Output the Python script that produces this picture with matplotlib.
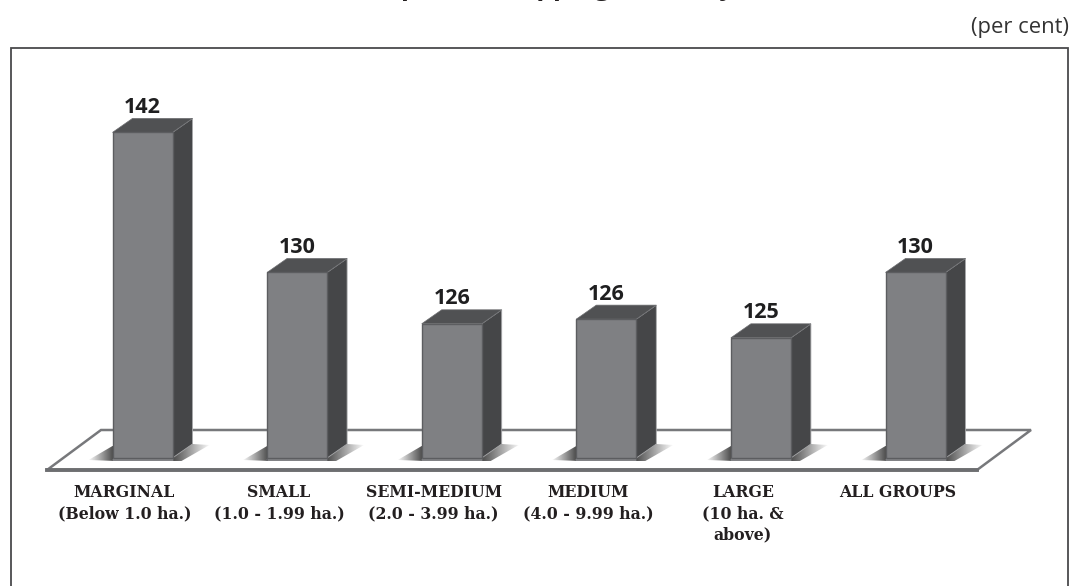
import numpy as np
import matplotlib
matplotlib.use('Agg')
import matplotlib.pyplot as plt
from matplotlib.patches import Polygon

# Data
categories = ['MARGINAL\n(Below 1.0 ha.)', 'SMALL\n(1.0 - 1.99 ha.)', 'SEMI-MEDIUM\n(2.0 - 3.99 ha.)',
              'MEDIUM\n(4.0 - 9.99 ha.)', 'LARGE\n(10 ha. &\nabove)', 'ALL GROUPS']
bar_labels = ['142', '130', '126', '126', '125', '130']
# heights as drawn, the printed labels are rounded
bar_heights = [142.0, 130.0, 125.6, 126.0, 124.4, 130.0]

W, H = 1071, 586
Y_BASE = 114.1
PX_PER_BAR = 154.6
PX_PER_UNIT = 11.67
BAR_W = 60 / PX_PER_BAR
DEPTH_X = 20 / PX_PER_BAR
DEPTH_Y = 14 / PX_PER_UNIT

fig = plt.figure(figsize=(W / 100, H / 100), dpi=100)
ax = fig.add_axes([0, 0, 1, 1])
# axis limits chosen so that the categories and values land on the frame
px_x = lambda px: (px - 142.5) / PX_PER_BAR
px_y = lambda py: Y_BASE + (458 - py) / PX_PER_UNIT
ax.set_xlim(px_x(0), px_x(W))
ax.set_ylim(px_y(H), px_y(0))
ax.axis('off')

# outer frame
frame_x = [px_x(11), px_x(11), px_x(1068), px_x(1068)]
frame_y = [px_y(600), px_y(48), px_y(48), px_y(600)]
ax.plot(frame_x, frame_y, color='#4a4a4c', lw=1.3, solid_joinstyle='miter')

# floor
floor = [(px_x(47), px_y(470)), (px_x(101), px_y(430)), (px_x(1031), px_y(430)), (px_x(977), px_y(470))]
ax.add_patch(Polygon(floor, closed=True, fc='white', ec='#77787b', lw=1.8, zorder=1))
ax.plot([px_x(47), px_x(977)], [px_y(470), px_y(470)], color='#6d6e71', lw=2.8, zorder=1)


def soft_shadow(points, x_from, x_to):
    # dark next to the bar, fading out towards x_to
    rgba = np.zeros((1, 64, 4))
    rgba[..., :3] = 0.27
    rgba[..., 3] = np.linspace(0.95, 0.0, 64)
    im = ax.imshow(rgba, extent=[x_from, x_to, Y_BASE - 4 / PX_PER_UNIT, Y_BASE + 16 / PX_PER_UNIT],
                   origin='lower', aspect='auto', interpolation='bilinear', zorder=2)
    patch = Polygon(points, closed=True, fc='none', ec='none', zorder=2)
    ax.add_patch(patch)
    im.set_clip_path(patch)


for i, h in enumerate(bar_heights):
    x0 = i - BAR_W / 2
    x1 = i + BAR_W / 2

    # shadows on the floor, they start under the bar so no gap is left
    soft_shadow([(x0 + 3 / PX_PER_BAR, Y_BASE + 12 / PX_PER_UNIT), (x0, Y_BASE + 12 / PX_PER_UNIT),
                 (x0 - 24 / PX_PER_BAR, Y_BASE - 2 / PX_PER_UNIT), (x0 + 3 / PX_PER_BAR, Y_BASE - 3 / PX_PER_UNIT)],
                x0, x0 - 25 / PX_PER_BAR)
    soft_shadow([(x1 - 4 / PX_PER_BAR, Y_BASE - 3 / PX_PER_UNIT), (x1 - 4 / PX_PER_BAR, Y_BASE + DEPTH_Y),
                 (x1 + DEPTH_X, Y_BASE + DEPTH_Y), (x1 + DEPTH_X + 17 / PX_PER_BAR, Y_BASE + 13 / PX_PER_UNIT),
                 (x1 + 9 / PX_PER_BAR, Y_BASE - 3 / PX_PER_UNIT)], x1, x1 + DEPTH_X + 18 / PX_PER_BAR)
    ax.plot([x0, x1], [Y_BASE - 2 / PX_PER_UNIT] * 2, color='#6a6b6e', lw=1.2, zorder=2)

    # front, side and top faces
    front = [(x0, Y_BASE), (x0, h), (x1, h), (x1, Y_BASE)]
    side = [(x1, Y_BASE), (x1, h), (x1 + DEPTH_X, h + DEPTH_Y), (x1 + DEPTH_X, Y_BASE + DEPTH_Y)]
    top = [(x0, h), (x0 + DEPTH_X, h + DEPTH_Y), (x1 + DEPTH_X, h + DEPTH_Y), (x1, h)]
    ax.add_patch(Polygon(side, closed=True, fc='#454648', ec='#a8a9ab', lw=0.6, zorder=3))
    ax.add_patch(Polygon(top, closed=True, fc='#505153', ec='#6d6e71', lw=0.5, zorder=3))
    ax.add_patch(Polygon(front, closed=True, fc='#7f8083', ec='#5c5d60', lw=1.0, zorder=4))

    ax.text(i, h + DEPTH_Y + 0.5 / PX_PER_UNIT, bar_labels[i], ha='center', va='bottom',
            fontsize=15.5, fontweight='bold', family='Open Sans', color='#1f1f20', zorder=5)

    ax.text(i - 18 / PX_PER_BAR, px_y(484), categories[i], ha='center', va='top', fontsize=11.3,
            fontweight='bold', family='DejaVu Serif', color='#231f20', linespacing=1.32, zorder=5)

ax.text(px_x(1069), px_y(33), '(per cent)', ha='right', va='baseline', fontsize=15.8,
        family='Open Sans', color='#333333')
# title is cut off by the top edge of the image, only the descenders show
ax.text(px_x(536), px_y(-5), 'Group-wise Cropping Intensity', ha='center', va='baseline', fontsize=19,
        fontweight='bold', family='Open Sans', color='#231f20', clip_on=True)

ax.set_xlim(px_x(0), px_x(W))
ax.set_ylim(px_y(H), px_y(0))
fig.savefig('out.png', dpi=100)
